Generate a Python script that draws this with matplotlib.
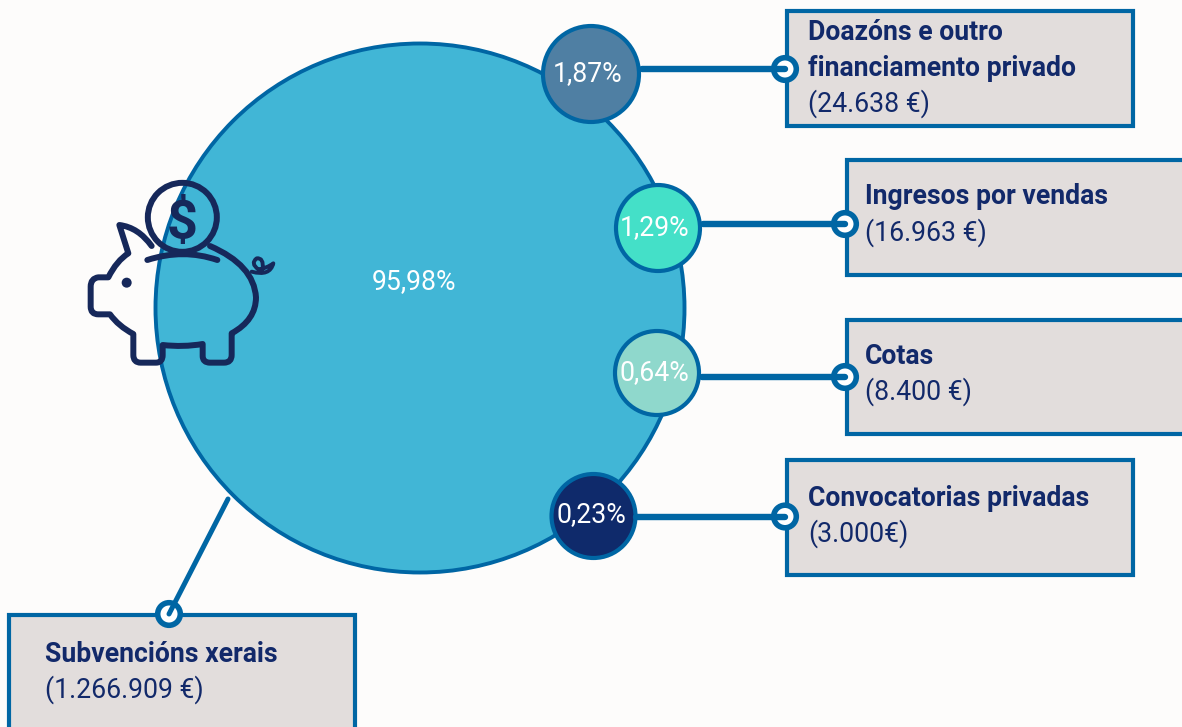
import matplotlib
matplotlib.use('Agg')
import matplotlib.pyplot as plt
from matplotlib.patches import Circle, Ellipse, PathPatch, Rectangle
from matplotlib.path import Path

plt.rcParams['font.family'] = ['Roboto', 'DejaVu Sans']

# data
main_pct = '95,98%'
bubble_pcts = ['1,87%', '1,29%', '0,64%', '0,23%']
titles = ['Doazóns e outro\nfinanciamento privado', 'Ingresos por vendas', 'Cotas', 'Convocatorias privadas', 'Subvencións xerais']
amounts = ['(24.638 €)', '(16.963 €)', '(8.400 €)', '(3.000€)', '(1.266.909 €)']

# colours
bg = '#FDFCFB'
edge = '#0066A4'
navy = '#12296A'
pig_col = '#16285A'
box_col = '#E2DDDC'
bubble_cols = ['#4F7FA3', '#44E0C8', '#8FD8CC', '#0F2A6B']

# layout, in pixels of the picture
bubble_xy = [(591, 74), (658, 228), (657, 373), (593.5, 516)]
bubble_r = [(48, 48), (42, 43), (42, 42), (42, 42)]
pct_xy = [(588, 74), (655, 228), (654, 373), (591, 515)]
boxes = [(787, 11, 346, 115), (847, 160, 345, 115), (847, 320, 345, 114), (787, 460, 346, 115), (9, 615, 346, 122)]
rings = [(785, 69), (845, 224), (845, 377), (785, 516.5), (169, 614)]
line_start = [(642, 69), (703, 224), (702, 377), (636, 516.5), (228, 499)]
line_w = [4.6, 4.6, 4.6, 4.6, 3.6]
text_xy = [(808, 32), (865, 197), (865, 356), (808, 498), (45, 654)]
fs = 19.2

fig = plt.figure(figsize=(11.82, 7.27), dpi=100, facecolor=bg)
ax = fig.add_axes([0, 0, 1, 1])
ax.set_xlim(0, 1182)
ax.set_ylim(727, 0)
ax.axis('off')

ax.add_patch(Circle((420, 308), 264.5, fc='#41B6D6', ec=edge, lw=2.8, zorder=1))
ax.text(414, 282, main_pct, color='white', fontsize=fs, ha='center', va='center', zorder=6)


def pz(x, y):
    return (70 + x / 3, 170 + y / 3)


def draw_curve(segs, lw=4.3):
    verts = [pz(*segs[0])]
    codes = [Path.MOVETO]
    for s in segs[1:]:
        if len(s) == 2:
            verts.append(pz(*s))
            codes.append(Path.LINETO)
        else:
            verts.append(pz(s[0], s[1]))
            verts.append(pz(s[2], s[3]))
            codes += [Path.CURVE3, Path.CURVE3]
    ax.add_patch(PathPatch(Path(verts, codes), fc='none', ec=pig_col, lw=lw,
                           capstyle='round', joinstyle='round', zorder=3))


# piggy bank
draw_curve([(245, 228), (205, 172, 148, 165), (175, 250), (140, 272, 115, 322), (85, 322),
            (62, 325, 62, 350), (62, 410), (62, 433, 85, 433), (120, 433),
            (145, 468, 190, 492), (190, 555), (190, 578, 212, 578), (258, 578),
            (278, 578, 278, 555), (278, 525), (340, 532, 398, 522), (398, 558),
            (398, 578, 420, 578), (462, 578), (485, 578, 485, 555), (485, 490),
            (558, 450, 558, 382), (552, 285, 420, 228)])
draw_curve([(232, 270), (340, 235, 442, 270)])
draw_curve([(545, 305), (600, 320, 610, 280), (590, 295, 565, 298), (540, 280, 560, 265), (582, 262, 578, 298)], lw=2.8)
ax.add_patch(Circle(pz(170, 338), 5, fc=pig_col, ec='none', zorder=3))
ax.add_patch(Circle(pz(337, 142), 34.5, fc='none', ec=pig_col, lw=4.3, zorder=3))
ax.text(*pz(335, 160), '$', color=pig_col, fontsize=39, fontweight='bold', ha='center', va='center', zorder=3)

# bubbles
for (x, y), (rx, ry), col in zip(bubble_xy, bubble_r, bubble_cols):
    ax.add_patch(Ellipse((x, y), 2 * rx, 2 * ry, fc=col, ec=edge, lw=3, zorder=4))
for (x, y), pct in zip(pct_xy, bubble_pcts):
    ax.text(x, y, pct, color='white', fontsize=fs, ha='center', va='center', zorder=6)

# boxes and labels
for (x, y, w, h), (tx, ty), title, amount in zip(boxes, text_xy, titles, amounts):
    ax.add_patch(Rectangle((x, y), w, h, fc=box_col, ec=edge, lw=3, zorder=2))
    n = title.count('\n')
    for i, part in enumerate(title.split('\n')):
        ax.text(tx, ty + i * 36, part, color=navy, fontsize=fs, fontweight='bold', ha='left', va='center', zorder=6)
    ax.text(tx, ty + (n + 1) * 36, amount, color=navy, fontsize=fs, ha='left', va='center', zorder=6)

# connectors
for (x0, y0), (x1, y1), w in zip(line_start, rings, line_w):
    ax.add_patch(Circle((x1, y1), 11.3, fc='white', ec=edge, lw=4, zorder=7))
    ax.plot([x0, x1], [y0, y1], color=edge, lw=w, solid_capstyle='round', zorder=8)

fig.savefig('out.png', dpi=100, facecolor=bg)
